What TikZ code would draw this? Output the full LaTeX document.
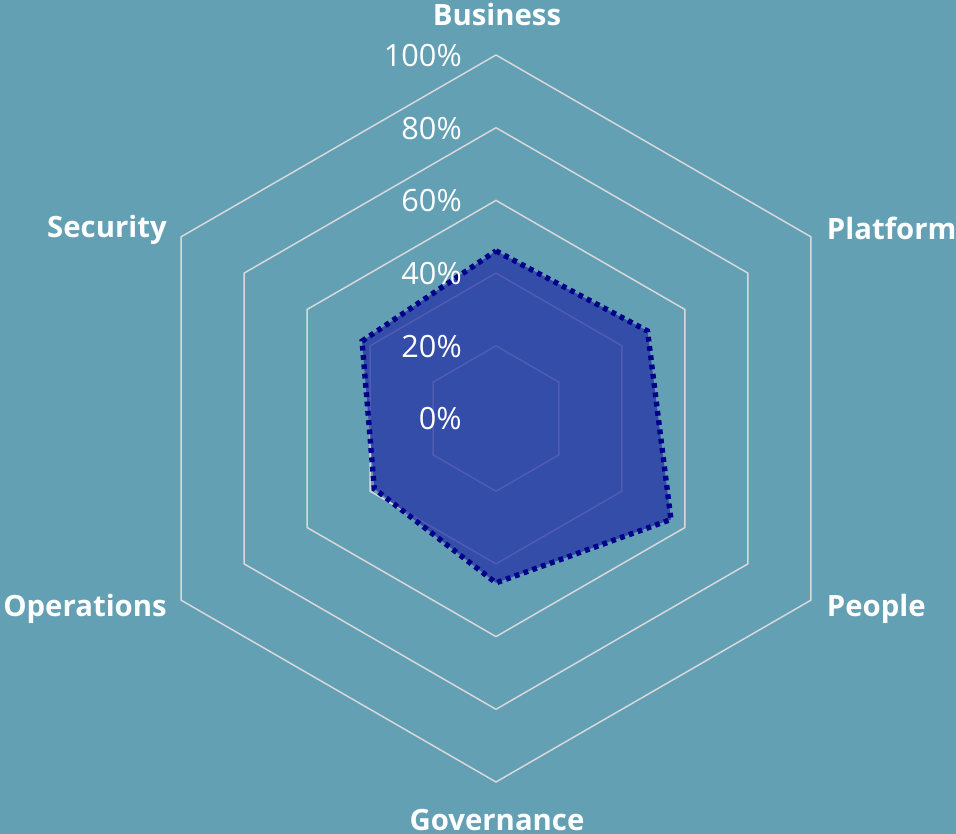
\documentclass[tikz,border=0pt]{standalone}
\usepackage{fontspec}
\setmainfont{Open Sans}
\definecolor{chartbg}{RGB}{99,160,180}
\definecolor{gridline}{RGB}{217,217,217}
\definecolor{areafill}{RGB}{35,50,165}
\definecolor{areaedge}{RGB}{0,0,139}
\tikzset{
  axislabel/.style={text=white, font=\fontsize{22}{26}\selectfont\bfseries, inner sep=0pt},
  ticklabel/.style={text=white, font=\fontsize{23}{27}\selectfont, inner sep=0pt, anchor=base east},
  gridring/.style={draw=gridline, line width=1.1pt},
  scorearea/.style={fill=areafill, fill opacity=0.75, draw=areaedge, draw opacity=1,
    line width=4pt, dash pattern=on 3.6pt off 3.4pt},
}
\begin{document}
\begin{tikzpicture}[x=0.75pt,y=0.75pt]
      \fill[chartbg] (-496,-415.5) rectangle (460,418.5);
      \useasboundingbox (-496,-415.5) rectangle (460,418.5);
      % grid rings, 20% apart
      \begin{scope}[gridring]
        \draw (90:72.7) -- (30:72.7) -- (-30:72.7) -- (-90:72.7) -- (-150:72.7) -- (150:72.7) -- cycle;
        \draw (90:145.4) -- (30:145.4) -- (-30:145.4) -- (-90:145.4) -- (-150:145.4) -- (150:145.4) -- cycle;
        \draw (90:218.1) -- (30:218.1) -- (-30:218.1) -- (-90:218.1) -- (-150:218.1) -- (150:218.1) -- cycle;
        \draw (90:290.8) -- (30:290.8) -- (-30:290.8) -- (-90:290.8) -- (-150:290.8) -- (150:290.8) -- cycle;
        \draw (90:363.5) -- (30:363.5) -- (-30:363.5) -- (-90:363.5) -- (-150:363.5) -- (150:363.5) -- cycle;
      \end{scope}
      % scores
      \draw[scorearea] (90:167.6) -- (30:175) -- (-30:202) -- (-90:164.4) -- (-150:140.5) -- (150:154.7) -- cycle;
      % tick labels
      \node[ticklabel] (t0) at (-34,-11.5) {0\%};
      \node[ticklabel] (t20) at (-34,61.2) {20\%};
      \node[ticklabel] (t40) at (-34,133.9) {40\%};
      \node[ticklabel] (t60) at (-34,206.6) {60\%};
      \node[ticklabel] (t80) at (-34,279.3) {80\%};
      \node[ticklabel] (t100) at (-34,352) {100\%};
      % axis labels
      \node[axislabel, anchor=base] (business) at (1,392.5) {Business};
      \node[axislabel, anchor=base west] (platform) at (330.7,179.2) {Platform};
      \node[axislabel, anchor=base west] (people) at (330.7,-198.2) {People};
      \node[axislabel, anchor=base] (governance) at (1,-411.5) {Governance};
      \node[axislabel, anchor=base east] (operations) at (-329,-198.2) {Operations};
      \node[axislabel, anchor=base east] (security) at (-329,180.8) {Security};
    \end{tikzpicture}
\end{document}
